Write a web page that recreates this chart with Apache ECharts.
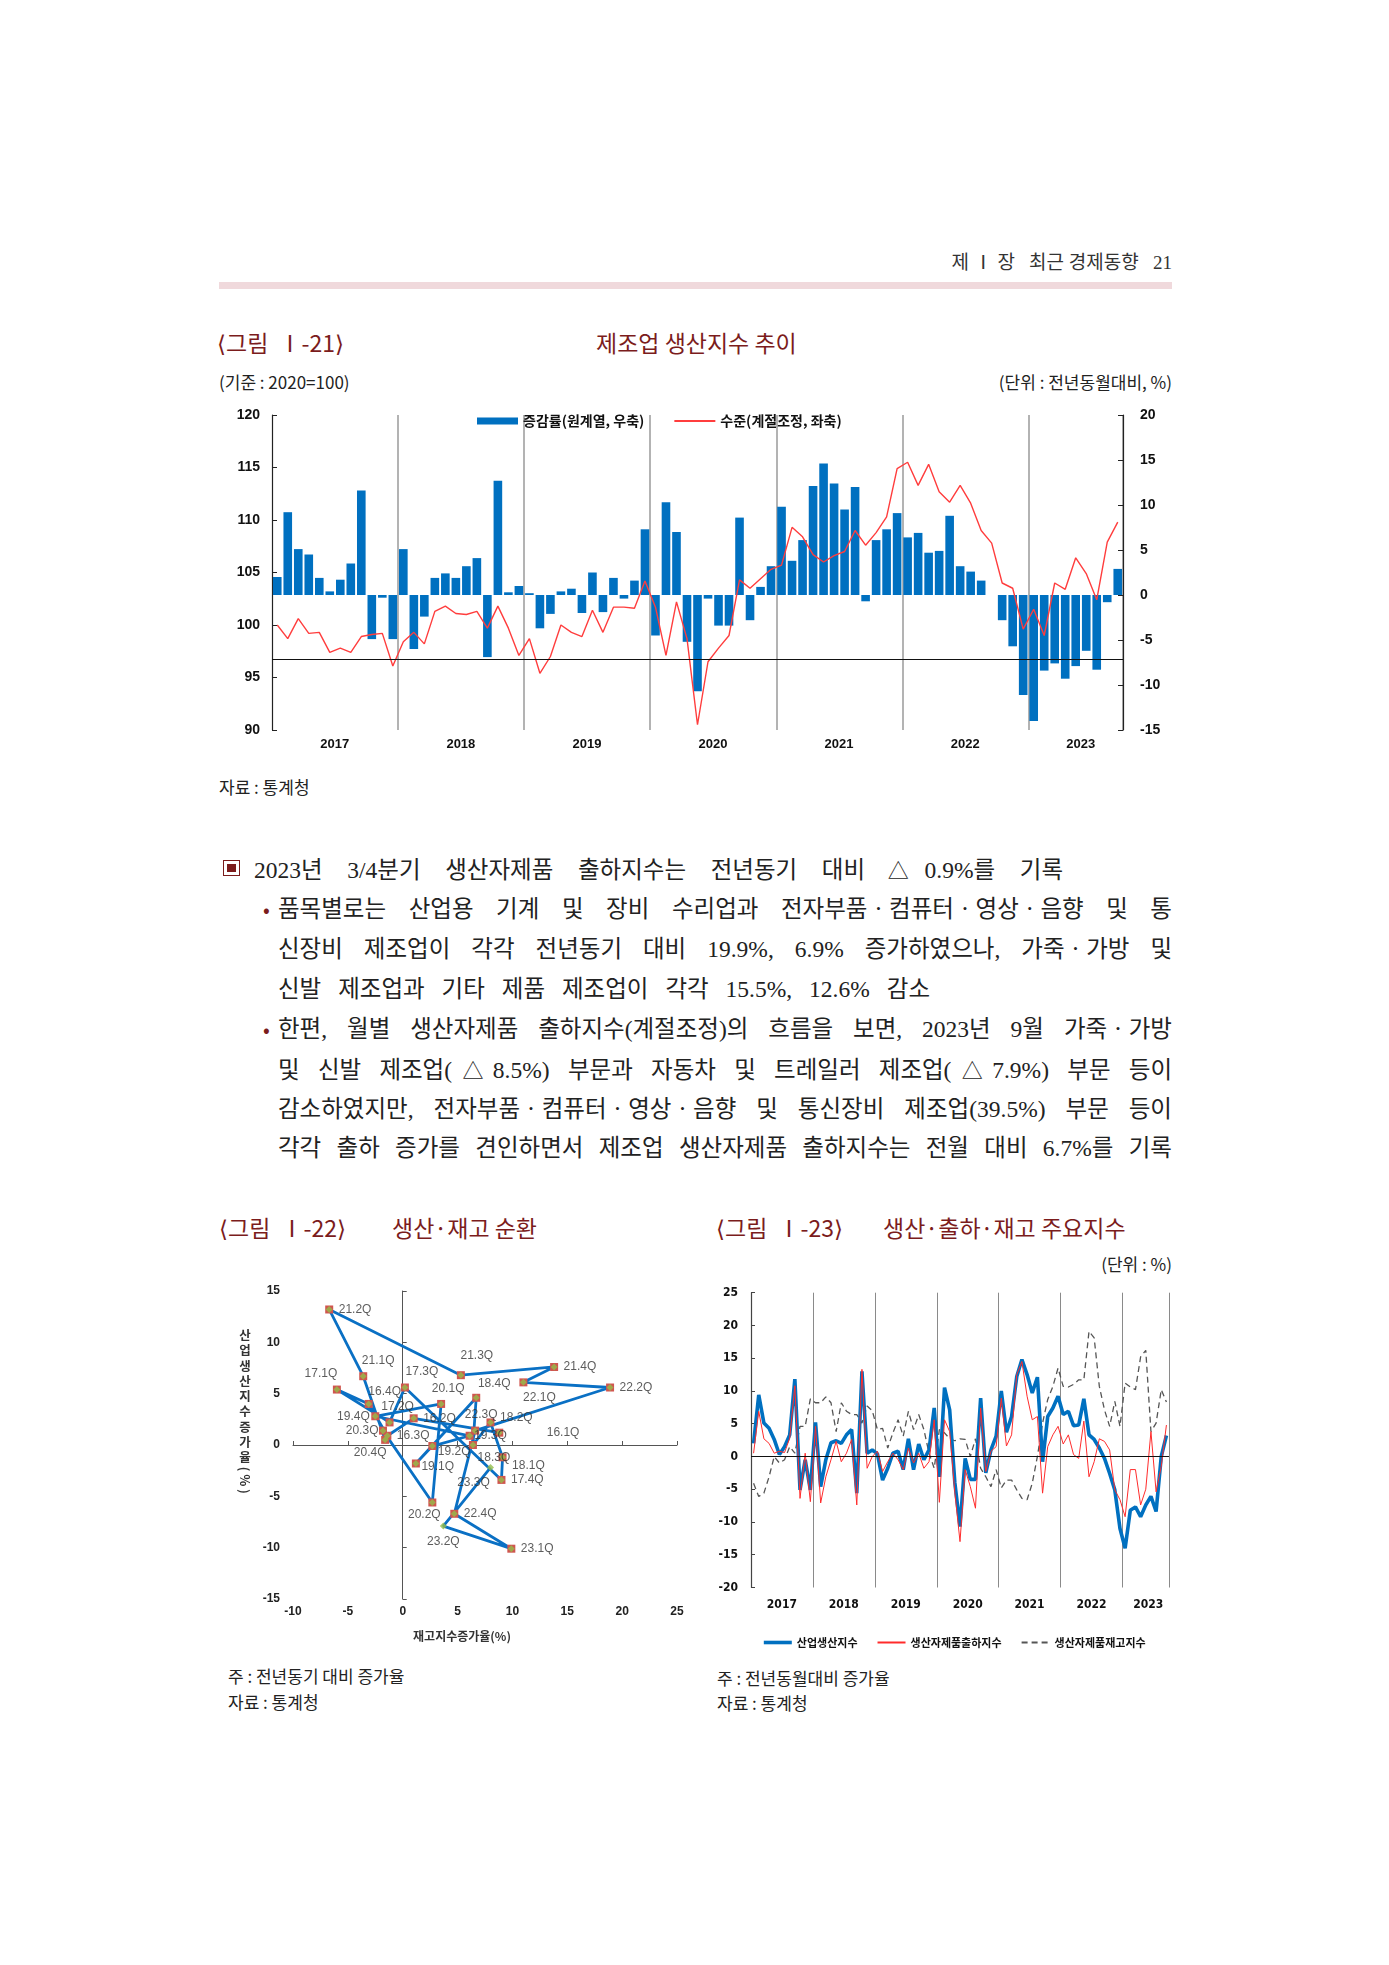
<!DOCTYPE html>
<html><head><meta charset="utf-8">
<script src="https://cdn.jsdelivr.net/npm/echarts@6/dist/echarts.min.js"></script>
<style>
html,body{margin:0;padding:0;background:#fff;}
#page{position:relative;width:1389px;height:1965px;overflow:hidden;background:#fff;font-family:"Noto Sans CJK KR",sans-serif;color:#222;}
.t{position:absolute;white-space:nowrap;line-height:1;transform:translateY(-50%);}
.title{color:#7b1c1c;font-size:23px;}
.small{font-size:17px;color:#222;}
.body{position:absolute;font-family:"Liberation Serif","Noto Sans CJK KR",serif;font-size:23.5px;line-height:40px;height:40px;white-space:nowrap;color:#222;text-align:justify;text-align-last:justify;}
.tri{font-family:"Noto Sans CJK KR",sans-serif;font-size:21px;margin:0 -3px 0 -2px;}
.bul{position:absolute;color:#7b1c1c;font-size:20px;line-height:40px;}
.chart{position:absolute;}
</style></head>
<body><div id="page">

<div class="t" style="right:217px;top:262px;font-family:'Liberation Serif','Noto Sans CJK KR',serif;font-size:19px;color:#333;">제 Ⅰ 장&nbsp;&nbsp; 최근 경제동향&nbsp;&nbsp; 21</div>
<div style="position:absolute;left:219px;top:282px;width:953px;height:7px;background:#f0d9dc;"></div>

<div class="t title" style="left:217px;top:342px;">⟨그림&nbsp; Ⅰ-21⟩</div>
<div class="t title" style="left:596px;top:342px;">제조업 생산지수 추이</div>
<div class="t small" style="left:219px;top:381px;">(기준 : 2020=100)</div>
<div class="t small" style="right:217px;top:381px;">(단위 : 전년동월대비, %)</div>
<div id="c1" class="chart" style="left:0;top:395px;width:1389px;height:375px;"></div>
<div class="t small" style="left:219px;top:786px;">자료 : 통계청</div>

<div style="position:absolute;left:223px;top:860px;width:15px;height:14px;border:1.6px solid #7b1c1c;"><div style="position:absolute;left:3px;top:3px;width:9px;height:8px;background:#7b1c1c;"></div></div>
<div class="body" style="left:254px;top:849px;width:809px;">2023년 3/4분기 생산자제품 출하지수는 전년동기 대비 <span class="tri">△</span>0.9%를 기록</div>
<div class="bul" style="left:263px;top:889px;">•</div>
<div class="body" style="left:278px;top:889px;width:894px;">품목별로는 산업용 기계 및 장비 수리업과 전자부품ㆍ컴퓨터ㆍ영상ㆍ음향 및 통</div>
<div class="body" style="left:278px;top:929px;width:894px;">신장비 제조업이 각각 전년동기 대비 19.9%, 6.9% 증가하였으나, 가죽ㆍ가방 및</div>
<div class="body" style="left:278px;top:969px;width:652px;">신발 제조업과 기타 제품 제조업이 각각 15.5%, 12.6% 감소</div>
<div class="bul" style="left:263px;top:1009px;">•</div>
<div class="body" style="left:278px;top:1009px;width:894px;">한편, 월별 생산자제품 출하지수(계절조정)의 흐름을 보면, 2023년 9월 가죽ㆍ가방</div>
<div class="body" style="left:278px;top:1049px;width:894px;">및 신발 제조업(<span class="tri">△</span>8.5%) 부문과 자동차 및 트레일러 제조업(<span class="tri">△</span>7.9%) 부문 등이</div>
<div class="body" style="left:278px;top:1089px;width:894px;">감소하였지만, 전자부품ㆍ컴퓨터ㆍ영상ㆍ음향 및 통신장비 제조업(39.5%) 부문 등이</div>
<div class="body" style="left:278px;top:1128px;width:894px;">각각 출하 증가를 견인하면서 제조업 생산자제품 출하지수는 전월 대비 6.7%를 기록</div>

<div class="t title" style="left:219px;top:1227px;">⟨그림&nbsp; Ⅰ-22⟩</div>
<div class="t title" style="left:392px;top:1227px;">생산·재고 순환</div>
<div class="t title" style="left:716px;top:1227px;">⟨그림&nbsp; Ⅰ-23⟩</div>
<div class="t title" style="left:883px;top:1227px;">생산·출하·재고 주요지수</div>
<div class="t small" style="right:217px;top:1263px;">(단위 : %)</div>

<div id="c2" class="chart" style="left:200px;top:1270px;width:500px;height:390px;"></div>
<div style="position:absolute;left:238px;top:1329px;writing-mode:vertical-rl;text-orientation:mixed;font-size:12.5px;font-weight:bold;letter-spacing:2.8px;color:#333;line-height:1;">산업생산지수증가율(%)</div>
<div id="c3" class="chart" style="left:690px;top:1270px;width:500px;height:390px;"></div>

<div class="t small" style="left:228px;top:1675px;">주 : 전년동기 대비 증가율</div>
<div class="t small" style="left:228px;top:1701px;">자료 : 통계청</div>
<div class="t small" style="left:717px;top:1677px;">주 : 전년동월대비 증가율</div>
<div class="t small" style="left:717px;top:1702px;">자료 : 통계청</div>
</div>

<script>
// ---------- shared categories ----------
const months = [
'2017.01','2017.02','2017.03','2017.04','2017.05','2017.06','2017.07','2017.08','2017.09','2017.10','2017.11','2017.12',
'2018.01','2018.02','2018.03','2018.04','2018.05','2018.06','2018.07','2018.08','2018.09','2018.10','2018.11','2018.12',
'2019.01','2019.02','2019.03','2019.04','2019.05','2019.06','2019.07','2019.08','2019.09','2019.10','2019.11','2019.12',
'2020.01','2020.02','2020.03','2020.04','2020.05','2020.06','2020.07','2020.08','2020.09','2020.10','2020.11','2020.12',
'2021.01','2021.02','2021.03','2021.04','2021.05','2021.06','2021.07','2021.08','2021.09','2021.10','2021.11','2021.12',
'2022.01','2022.02','2022.03','2022.04','2022.05','2022.06','2022.07','2022.08','2022.09','2022.10','2022.11','2022.12',
'2023.01','2023.02','2023.03','2023.04','2023.05','2023.06','2023.07','2023.08','2023.09'];
const yearLabelMonths = ['2017.06','2018.06','2019.06','2020.06','2021.06','2022.06','2023.05'];

// ---------- chart 1: manufacturing production ----------
const mfgGrowth = [
 2.0, 9.2, 5.1, 4.5, 1.9, 0.4, 1.7, 3.5, 11.6, -4.9, -0.3, -4.9,
 5.1, -6.0, -2.4, 1.9, 2.4, 1.9, 3.2, 4.1, -6.9, 12.7, 0.3, 1.0,
 0.2, -3.7, -2.1, 0.4, 0.7, -2.0, 2.5, -1.9, 1.9, -0.4, 1.6, 7.3,
 -4.5, 10.3, 7.0, -5.2, -10.7, -0.4, -3.4, -3.4, 8.6, -2.8, 0.9, 3.2,
 9.8, 3.8, 6.1, 12.1, 14.6, 12.4, 9.5, 12.0, -0.7, 6.1, 7.3, 9.1,
 6.4, 6.9, 4.7, 4.9, 8.8, 3.2, 2.6, 1.6, 0.0, -2.8, -5.7, -11.1,
 -14.0, -8.4, -7.6, -9.3, -7.9, -6.2, -8.3, -0.8, 2.9];
const mfgLevel = [
 100.0, 98.7, 100.6, 99.2, 99.3, 97.4, 97.8, 97.4, 98.9, 99.1, 99.2, 96.1,
 98.4, 99.3, 98.2, 101.3, 101.8, 101.1, 101.0, 101.3, 99.7, 101.8, 99.7, 97.1,
 98.7, 95.4, 97.0, 100.0, 99.3, 98.9, 101.4, 99.3, 101.7, 101.7, 101.6, 104.2,
 101.7, 97.1, 102.2, 98.7, 90.5, 96.5, 97.8, 99.0, 104.3, 103.5, 104.4, 105.3,
 105.7, 109.3, 108.4, 106.7, 106.0, 106.6, 107.0, 109.0, 107.6, 108.8, 110.3, 114.9,
 115.5, 113.3, 115.3, 112.7, 111.7, 113.3, 111.6, 109.0, 107.8, 104.0, 103.5, 99.6,
 101.5, 99.0, 104.0, 103.4, 106.4, 104.9, 102.4, 107.9, 109.8];
const refLineLevel = 96.7;
const leftTicks = {min: 90, max: 120, step: 5};
const rightTicks = {min: -15, max: 20, step: 5};

// ---------- chart 2: production-inventory cycle ----------
const quarters = ['16.1Q','16.2Q','16.3Q','16.4Q','17.1Q','17.2Q','17.3Q','17.4Q','18.1Q','18.2Q','18.3Q','18.4Q',
 '19.1Q','19.2Q','19.3Q','19.4Q','20.1Q','20.2Q','20.3Q','20.4Q','21.1Q','21.2Q','21.3Q','21.4Q',
 '22.1Q','22.2Q','22.3Q','22.4Q','23.1Q','23.2Q','23.3Q'];
const inventoryGrowth = [8.8, 1.0, -1.4, -3.1, -6.0, -1.2, 0.2, 9.0, 9.1, 8.0, 6.4, 6.7,
 1.2, 2.7, 6.1, -2.5, 3.5, 2.7, -1.8, -1.6, -3.6, -6.7, 5.3, 13.8,
 11.0, 18.9, 6.6, 4.7, 9.9, 3.7, 8.0];
const productionGrowth = [1.2, 2.6, 0.9, 4.0, 5.4, 2.2, 5.6, -3.4, -1.2, 2.2, 0.0, 4.6,
 -1.8, -0.1, 0.9, 2.8, 4.0, -5.6, 1.4, 0.5, 6.7, 13.2, 6.8, 7.6,
 6.1, 5.6, 1.4, -6.7, -10.1, -7.9, -2.2];
// label placement (style only): [position, dx, dy]
const labelPlacement = [
 ['right',38,0],['right',0,0],['right',0,0],['top',16,3],['top',-16,0],['top',8,0],['top',17,0],['right',0,0],
 ['right',0,8],['right',0,-5],['bottom',21,-3],['top',18,1],['right',-4,3],['right',-4,6],['right',-5,0],['left',4,0],
 ['top',7,0],['bottom',-8,-3],['left',5,0],['bottom',-15,-3],['top',15,0],['right',0,0],['top',16,-4],['right',0,0],
 ['bottom',16,0],['right',0,0],['top',6,0],['right',0,0],['right',0,0],['bottom',0,0],['bottom',-17,0]];
const squareHidden = ['23.2Q','23.3Q'];

// ---------- chart 3: main indices ----------
const industrialProd = [
 2.0, 9.4, 5.1, 4.3, 2.6, 0.3, 1.5, 3.3, 11.8, -5.1, -0.5, -5.1,
 5.2, -4.6, -0.5, 2.1, 2.4, 2.0, 3.3, 4.1, -5.6, 13.0, 0.5, 1.0,
 0.4, -3.6, -1.8, 0.5, 0.8, -2.0, 2.7, -2.0, 1.9, -0.5, 1.0, 7.4,
 -3.1, 10.5, 7.1, -4.0, -10.7, -0.3, -3.5, -3.5, 8.9, -2.5, 1.0, 3.1,
 10.0, 3.7, 6.1, 12.2, 14.8, 12.5, 9.7, 12.1, -0.8, 6.1, 7.4, 9.2,
 6.4, 6.9, 4.7, 4.8, 8.8, 3.3, 2.6, 1.3, -0.3, -2.6, -5.1, -11.0,
 -14.0, -8.2, -7.7, -9.2, -7.4, -6.1, -8.4, 0.0, 3.2];
const shipments = [
 0.5, 6.9, 2.7, 2.0, 0.5, 0.8, 0.6, 2.8, 10.8, -6.4, 0.5, -6.9,
 4.6, -7.1, -3.1, -0.5, 2.3, -0.8, 0.5, 2.6, -7.4, 13.3, -1.8, 0.0,
 0.8, -2.3, -0.8, 0.5, -0.5, -2.0, 1.3, -1.0, 0.5, -1.8, -0.8, 5.6,
 -7.0, 5.6, 3.8, -5.5, -13.0, -2.0, -4.6, -7.9, 7.4, -2.3, 0.8, 1.5,
 8.9, 1.6, 3.3, 12.5, 14.5, 9.2, 5.6, 6.1, -5.6, 1.5, 3.3, 4.6,
 1.9, 3.3, 0.3, -0.3, 5.4, -3.1, -0.8, 2.7, 2.3, 1.0, -5.1, -6.6,
 -9.2, -2.0, -2.0, -7.4, -5.0, 3.8, -5.4, -1.5, 4.8];
const inventories = [
 -4.1, -6.1, -5.6, -3.1, 0.0, -1.0, -0.5, 1.5, 0.5, 4.6, 4.6, 8.8,
 8.2, 8.2, 9.1, 8.2, 3.8, 8.2, 6.9, 6.4, 6.4, 5.1, 7.7, 7.0,
 4.1, 4.3, 1.3, 3.6, 5.6, 3.1, 6.9, 4.1, 6.4, 4.1, 0.5, -1.8,
 4.1, 3.6, 2.7, 2.4, 2.7, 2.6, 0.0, 2.7, -1.8, -3.1, -4.6, -2.0,
 -4.8, -3.6, -3.6, -5.1, -6.4, -6.6, -4.1, 0.0, 5.1, 8.7, 10.7, 13.5,
 10.7, 10.6, 11.0, 11.7, 11.7, 19.1, 18.1, 10.7, 7.1, 4.6, 8.4, 4.6,
 11.2, 10.6, 10.2, 15.2, 16.2, 3.8, 5.1, 10.2, 8.3];

const NUM = "'Liberation Sans', Arial, sans-serif";
const NARROW = "'Liberation Sans Narrow','DejaVu Sans Condensed','Liberation Sans',sans-serif";
const KR = "'Noto Sans CJK KR', sans-serif";
const yearFmt = v => v.slice(0, 4);
const yearInterval = (i, v) => yearLabelMonths.indexOf(v) >= 0;
const noSymbol = {opacity: 0};

// ===== chart 1 =====
const c1 = echarts.init(document.getElementById('c1'), null, {renderer: 'canvas'});
c1.setOption({
  animation: false,
  legend: {
    left: 472, top: 14, itemWidth: 41, itemHeight: 7, itemGap: 29,
    textStyle: {fontFamily: KR, fontSize: 14, fontWeight: 'bold', color: '#111'},
    data: [{name: '증감률(원계열, 우축)', icon: 'rect'}, {name: '수준(계절조정, 좌축)', itemStyle: noSymbol}]
  },
  grid: {left: 272, right: 266, top: 20, height: 315},
  xAxis: {
    type: 'category', data: months, boundaryGap: true,
    axisLine: {show: false}, axisTick: {show: false},
    splitLine: {show: true, interval: (i) => i > 0 && i % 12 === 0, lineStyle: {color: '#9a9a9a', width: 1.5}},
    axisLabel: {interval: yearInterval, formatter: yearFmt, margin: 8, padding: [0, 0, 0, 10],
      fontFamily: NUM, fontWeight: 'bold', fontSize: 13, color: '#111'}
  },
  yAxis: [
    {type: 'value', position: 'left', min: leftTicks.min, max: leftTicks.max, interval: leftTicks.step,
     axisLine: {show: true, lineStyle: {color: '#222', width: 1.2}},
     axisTick: {show: true, inside: true, length: 5, lineStyle: {color: '#222'}},
     splitLine: {show: false},
     axisLabel: {margin: 12, fontFamily: NUM, fontWeight: 'bold', fontSize: 14, color: '#111'}},
    {type: 'value', position: 'right', min: rightTicks.min, max: rightTicks.max, interval: rightTicks.step,
     axisLine: {show: true, lineStyle: {color: '#222', width: 1.2}},
     axisTick: {show: true, inside: true, length: 5, lineStyle: {color: '#222'}},
     splitLine: {show: false},
     axisLabel: {margin: 17, fontFamily: NUM, fontWeight: 'bold', fontSize: 14, color: '#111'}}
  ],
  series: [
    {name: '증감률(원계열, 우축)', type: 'bar', yAxisIndex: 1, data: mfgGrowth, barCategoryGap: '18%',
     itemStyle: {color: '#0070c0'}},
    {name: '수준(계절조정, 좌축)', type: 'line', yAxisIndex: 0, data: mfgLevel, symbol: 'none',
     lineStyle: {color: '#ff3d3d', width: 1.4}, itemStyle: {color: '#ff3d3d'},
     markLine: {silent: true, symbol: 'none', label: {show: false},
       lineStyle: {color: '#111', width: 1.2, type: 'solid'}, data: [{yAxis: refLineLevel}]}}
  ]
});

// ===== chart 2 =====
const c2 = echarts.init(document.getElementById('c2'));
const scatterPoints = inventoryGrowth.map((x, i) => [x, productionGrowth[i]]);
c2.setOption({
  animation: false,
  grid: {left: 93, top: 21, width: 384, height: 308},
  xAxis: [
    {type: 'value', min: -10, max: 25, interval: 5, position: 'bottom',
     axisLine: {show: false, onZero: false}, axisTick: {show: false}, splitLine: {show: false},
     axisLabel: {margin: 7, fontFamily: NUM, fontWeight: 'bold', fontSize: 12, color: '#222'},
     name: '재고지수증가율(%)', nameLocation: 'middle', nameGap: 31,
     nameTextStyle: {fontFamily: KR, fontWeight: 'bold', fontSize: 12, color: '#333', padding: [0, 46, 0, 0]}},
    {type: 'value', min: -10, max: 25, interval: 5, position: 'bottom',
     axisLine: {show: true, onZero: true, lineStyle: {color: '#555', width: 1}},
     axisTick: {show: true, inside: true, length: 4, lineStyle: {color: '#555'}},
     axisLabel: {show: false}, splitLine: {show: false}}
  ],
  yAxis: [
    {type: 'value', min: -15, max: 15, interval: 5, position: 'left',
     axisLine: {show: false, onZero: false}, axisTick: {show: false}, splitLine: {show: false},
     axisLabel: {margin: 13, fontFamily: NUM, fontWeight: 'bold', fontSize: 12, color: '#222'}},
    {type: 'value', min: -15, max: 15, interval: 5, position: 'left',
     axisLine: {show: true, onZero: true, lineStyle: {color: '#555', width: 1}},
     axisTick: {show: true, inside: true, length: 4, lineStyle: {color: '#555'}},
     axisLabel: {show: false}, splitLine: {show: false}}
  ],
  series: [
    {type: 'line', xAxisIndex: 0, yAxisIndex: 0,
     data: scatterPoints.map((p, i) => ({value: p,
       itemStyle: {opacity: squareHidden.indexOf(quarters[i]) >= 0 ? 0 : 1}})),
     symbol: 'rect', symbolSize: 8, showAllSymbol: true,
     lineStyle: {color: '#0a70c4', width: 2.8}, itemStyle: {color: '#d0564f'}, z: 2},
    {type: 'scatter', xAxisIndex: 0, yAxisIndex: 0,
     data: scatterPoints.map((p, i) => ({value: p,
       label: {position: labelPlacement[i][0], offset: [labelPlacement[i][1], labelPlacement[i][2]]}})),
     symbol: 'diamond', symbolSize: 7, itemStyle: {color: '#94bd4a'}, z: 3,
     label: {show: true, distance: 6, formatter: (p) => quarters[p.dataIndex],
       fontFamily: NUM, fontSize: 12, color: '#333'}}
  ]
});

// ===== chart 3 =====
const c3 = echarts.init(document.getElementById('c3'));
c3.setOption({
  animation: false,
  legend: {
    left: 67, top: 362, itemWidth: 28, itemHeight: 10, itemGap: 19,
    textStyle: {fontFamily: KR, fontSize: 11, fontWeight: 'bold', color: '#111'},
    data: [{name: '산업생산지수', itemStyle: noSymbol, lineStyle: {width: 3.6}},
           {name: '생산자제품출하지수', itemStyle: noSymbol},
           {name: '생산자제품재고지수', itemStyle: noSymbol}]
  },
  grid: {left: 61, top: 22.7, width: 418, height: 294.8},
  xAxis: {
    type: 'category', data: months, boundaryGap: true,
    axisLine: {show: false}, axisTick: {show: false},
    splitLine: {show: true, interval: (i) => i > 0 && i % 12 === 0, lineStyle: {color: '#8a8a8a', width: 1}},
    axisLabel: {interval: yearInterval, formatter: yearFmt, margin: 11, padding: [0, 0, 0, 5],
      fontFamily: NARROW, fontWeight: 'bold', fontSize: 12, color: '#111'}
  },
  yAxis: {
    type: 'value', min: -20, max: 25, interval: 5,
    axisLine: {show: true, lineStyle: {color: '#444', width: 1.2}},
    axisTick: {show: true, inside: true, length: 4, lineStyle: {color: '#444'}},
    splitLine: {show: false},
    axisLabel: {margin: 13, fontFamily: NARROW, fontWeight: 'bold', fontSize: 12, color: '#111'}
  },
  series: [
    {name: '생산자제품재고지수', type: 'line', data: inventories, symbol: 'none',
     lineStyle: {color: '#555', width: 1.3, type: [6, 4]}, itemStyle: {color: '#555'},
     markLine: {silent: true, symbol: 'none', label: {show: false},
       lineStyle: {color: '#111', width: 1.2, type: 'solid'}, data: [{yAxis: 0}]}},
    {name: '산업생산지수', type: 'line', data: industrialProd, symbol: 'none',
     lineStyle: {color: '#0070c0', width: 3.6}, itemStyle: {color: '#0070c0'}},
    {name: '생산자제품출하지수', type: 'line', data: shipments, symbol: 'none',
     lineStyle: {color: '#ff2b2b', width: 1}, itemStyle: {color: '#ff2b2b'}}
  ]
});
</script>
</body></html>
